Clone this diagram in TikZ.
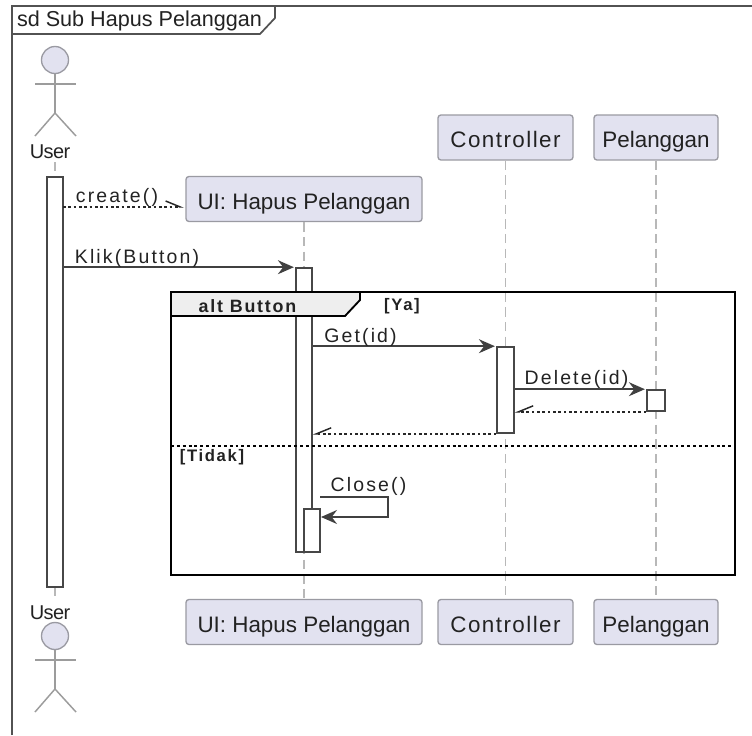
\documentclass[tikz,border=0pt]{standalone}
\usepackage{fontspec}
\usepackage{xcolor}
\setmainfont{Liberation Sans}
\usetikzlibrary{arrows.meta}
\definecolor{boxfill}{HTML}{E2E2F0}
\definecolor{boxline}{HTML}{9A9AA2}
\definecolor{lifeline}{HTML}{B8B8B8}
\definecolor{inkdark}{HTML}{222222}
\definecolor{tabfill}{HTML}{EEEEEE}
\tikzset{
	part/.style 2 args={draw=boxline, fill=boxfill, line width=1pt, rounded corners=2.2pt, text=inkdark, inner sep=0pt, text height=15pt, text depth=0pt, minimum width=#1*0.75pt, minimum height=#2*0.75pt, font=\fontsize{16.8}{20}\selectfont},
	spaced/.style={font=\fontsize{16.8}{20}\selectfont\addfontfeature{LetterSpace=6.5}},
	bar/.style 2 args={draw=black!72, fill=white, line width=1.2pt, inner sep=0pt, minimum width=#1*0.75pt, minimum height=#2*0.75pt},
	msg/.style={text=inkdark, inner sep=0pt, font=\fontsize{14.6}{17}\selectfont\addfontfeature{LetterSpace=11}},
	guard/.style={text=inkdark, inner sep=0pt, font=\fontsize{12.5}{14}\selectfont\bfseries\addfontfeature{LetterSpace=10}},
	life/.style={draw=lifeline, line width=1.4pt, dash pattern=on 7pt off 4pt},
	call/.style={draw=black!75, line width=1.25pt, -{Stealth[length=12pt, width=10.5pt, inset=4pt]}},
	back/.style={draw=black!85, line width=1.1pt, dash pattern=on 2pt off 2pt, -{Straight Barb[length=11pt, width=9pt, #1]}},
	stick/.style={draw=lifeline!85!black, line width=1.1pt}
}
\begin{document}
\begin{tikzpicture}[x=0.75pt,y=-0.75pt]
	\useasboundingbox (0,0) rectangle (752,735);

	\node[part={236}{45}] (uiTop) at (304,199) {UI: Hapus Pelanggan};
	\node[part={135}{45}, spaced] (ctrlTop) at (505.5,137.5) {Controller};
	\node[part={124}{45}] (pelTop) at (656,137.5) {Pelanggan};
	\node[part={236}{45}] (uiBot) at (304,622) {UI: Hapus Pelanggan};
	\node[part={135}{45}, spaced] (ctrlBot) at (505.5,622) {Controller};
	\node[part={124}{45}] (pelBot) at (656,622) {Pelanggan};

	\draw[life] (uiTop.south) -- (uiBot.north);
	\draw[life] (ctrlTop.south) -- (ctrlBot.north);
	\draw[life] (pelTop.south) -- (pelBot.north);
	\draw[life] (55,162) -- (55,177);
	\draw[life] (55,587) -- (55,600);

	\node[bar={16}{410}] (barUser) at (55,382) {};
	\node[bar={16}{284}] (barUI) at (304,410) {};
	\node[bar={16}{43}] (barClose) at (312,530.5) {};
	\node[bar={17}{86}] (barCtrl) at (505.5,390) {};
	\node[bar={18}{21}] (barPel) at (656,400.5) {};

	\coordinate (createEnd) at (184,207);
	\coordinate (createFrom) at (63,207);
	\coordinate (closeFrom) at (320,497);
	\coordinate (closeOut) at (388,497);
	\coordinate (closeIn) at (388,517);
	\coordinate (closeTo) at (321,517);

	\draw[back=left] (createFrom) -- (createEnd);
	\draw[call] (barUser.east |- barUI.north) -- ([xshift=-1pt]barUI.north west);
	\draw[call] (barUI.east |- barCtrl.north) -- ([xshift=-1pt]barCtrl.north west);
	\draw[call] (barCtrl.east |- barPel.north) -- ([xshift=-1pt]barPel.north west);
	\draw[back=right] (barPel.south west) -- (barCtrl.east |- barPel.south);
	\draw[back=right] (barCtrl.south west) -- (barUI.east |- barCtrl.south);
	\draw[call] (closeFrom) -- (closeOut) -- (closeIn) -- (closeTo);

	\node[msg] (createLbl) at (117,197) {create()};
	\node[msg] (klikLbl) at (137,258) {Klik(Button)};
	\node[msg] (getLbl) at (360.5,337) {Get(id)};
	\node[msg] (deleteLbl) at (576.5,379) {Delete(id)};
	\node[msg] (closeLbl) at (368.5,486) {Close()};

	\draw[tabfill, fill=tabfill] (171,292) -- (360,292) -- (360,300) -- (345,316) -- (171,316) -- cycle;
	\draw[black, line width=2.2pt] (171,292) rectangle (735,575);
	\draw[black, line width=1.4pt] (171,316) -- (345,316) -- (360,300) -- (360,292);
	\draw[black, line width=1pt, dash pattern=on 2.2pt off 2.2pt] (171,446) -- (735,446);
	\node[guard, font=\fontsize{13.4}{15}\selectfont\bfseries\addfontfeature{LetterSpace=10}] (altLbl) at (247.5,306) {alt Button};
	\node[guard] (yaLbl) at (402,306) {[Ya]};
	\node[guard] (tidakLbl) at (212,457) {[Tidak]};

	\draw[black!68, line width=1.9pt] (12,735) -- (12,6) -- (752,6);
	\draw[black!68, line width=1.3pt] (12,34) -- (260,34) -- (275,18) -- (275,6);
	\node[text=inkdark, inner sep=0pt, font=\fontsize{16.2}{20}\selectfont] (sdLbl) at (139.5,21) {sd Sub Hapus Pelanggan};

	\foreach \i/\y in {Top/0,Bot/576}{
		\node[circle, draw=boxline, fill=boxfill, line width=1pt, minimum size=27*0.75pt, inner sep=0pt] (head\i) at (55,60+\y) {};
		\draw[stick] (head\i.south) -- (55,113+\y);
		\draw[stick] (35,84+\y) -- (76,84+\y);
		\draw[stick] (35,136+\y) -- (55,113+\y) -- (76,136+\y);
	}
	\node[text=inkdark, inner sep=0pt, font=\fontsize{15}{18}\selectfont\addfontfeature{LetterSpace=-3}] (userTop) at (50,152) {User};
	\node[text=inkdark, inner sep=0pt, font=\fontsize{15}{18}\selectfont\addfontfeature{LetterSpace=-3}] (userBot) at (50,613) {User};
\end{tikzpicture}
\end{document}
